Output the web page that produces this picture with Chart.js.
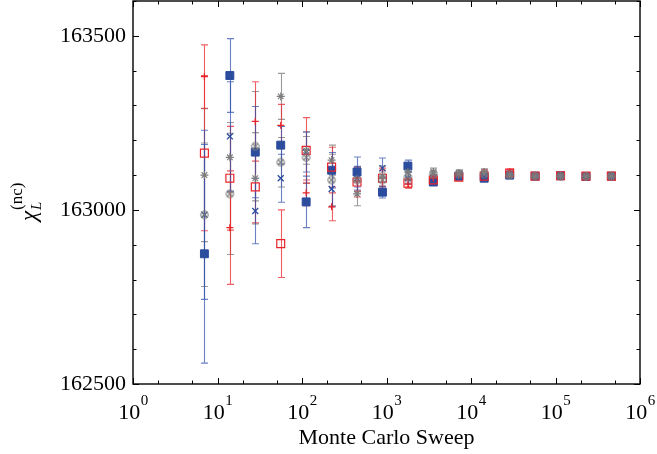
<!DOCTYPE html>
<html><head><meta charset="utf-8">
<script src="https://cdn.jsdelivr.net/npm/chart.js@4.4.1/dist/chart.umd.min.js"></script>
<style>html,body{margin:0;padding:0;background:#fff;}#wrap{width:657px;height:454px;}</style>
</head><body><div id="wrap"><canvas id="c" width="657" height="454"></canvas></div>
<script>
// ---- data ----
const sweeps = [7,14,28,56,112,224,448,896,1792,3584,7168,14336,28672,57344,114688,229376,458752];

const blueSquare    = [162874,163386,163166,163186,163023,163114,163109,163051,163126,163080,163097,163091,163100,163097,163098,163096,163097];
const blueSquareErr = [314,106,131,54,74,51,43,17,17,9,9,8,6,5,4,3,3];

const redSquare     = [163163,163091,163066,162903,163171,163123,163080,163091,163077,163086,163094,163097,163106,163097,163098,163097,163097];
const redSquareErr  = [223,149,103,97,94,57,43,29,14,9,9,6,8,5,4,3,3];

const grayCircle    = [162986,163046,163183,163137,163151,163086,163086,163086,163094,163103,163103,163103,163100,163097,163097,163096,163097];
const grayCircleErr = [206,174,157,71,74,74,34,23,17,11,9,9,6,5,4,3,2];

const grayStar      = [163100,163151,163091,163326,163171,163143,163046,163097,163109,163109,163106,163109,163100,163097,163097,163097,163097];
const grayStarErr   = [191,100,131,66,40,43,34,29,17,11,9,9,6,5,4,3,2];

const blueCross     = [162986,163211,162997,163091,163166,163060,163091,163120,163091,163091,163100,163097,163097,163097,163097,163097,163097];
const blueCrossErr  = [243,157,94,69,57,51,34,29,17,11,9,8,6,5,4,3,2];

const redPlus       = [163383,162949,163254,163243,163049,163009,163083,163091,163074,163091,163100,163109,163109,163097,163097,163097,163097];
const redPlusErr    = [91,163,114,60,37,40,29,23,11,9,9,6,8,5,4,3,2];

const xMajorTicks = [1,10,100,1000,10000,100000,1000000];
const xMinorTicks = [2,5,20,50,200,500,2000,5000,20000,50000,200000,500000];
const xTickExponents = ['0','1','2','3','4','5','6'];
const yMin = 162500, yMax = 163600, yStep = 100, yLabelStep = 500;

// ---- styles ----
const BLUE = '#2c4c9e', BLUE_BAR = 'rgba(50,80,175,0.72)';
const RED = '#e8242a', RED_BAR = 'rgba(235,40,45,0.75)';
const GRAY = '#7d7d7d', GRAY_BAR = 'rgba(120,120,120,0.75)';

function otimesMarker(){
  const c = document.createElement('canvas'); c.width = 11; c.height = 11;
  const g = c.getContext('2d'); g.strokeStyle = GRAY; g.lineWidth = 1.1;
  g.beginPath(); g.arc(5.5,5.5,3.7,0,Math.PI*2); g.stroke();
  g.beginPath(); g.moveTo(3,3); g.lineTo(8,8); g.moveTo(8,3); g.lineTo(3,8); g.stroke();
  return c;
}

function pts(vals){ return sweeps.map((s,i)=>({x:s,y:vals[i]})); }

const datasets = [
  {label:'gray asterisk', data:pts(grayStar), errors:grayStarErr, barColor:GRAY_BAR,
   pointStyle:'star', radius:4, borderColor:GRAY, backgroundColor:GRAY, borderWidth:1.1},
  {label:'gray circle', data:pts(grayCircle), errors:grayCircleErr, barColor:GRAY_BAR,
   pointStyle:otimesMarker(), radius:5, borderColor:GRAY, backgroundColor:GRAY},
  {label:'red plus', data:pts(redPlus), errors:redPlusErr, barColor:RED_BAR,
   pointStyle:'cross', radius:3.5, borderColor:RED, backgroundColor:RED, borderWidth:1.2},
  {label:'red square', data:pts(redSquare), errors:redSquareErr, barColor:RED_BAR,
   pointStyle:'rect', radius:5.6, borderColor:RED, backgroundColor:'rgba(0,0,0,0)', borderWidth:1.2},
  {label:'blue cross', data:pts(blueCross), errors:blueCrossErr, barColor:BLUE_BAR,
   pointStyle:'crossRot', radius:4.2, borderColor:BLUE, backgroundColor:BLUE, borderWidth:1.3},
  {label:'blue square', data:pts(blueSquare), errors:blueSquareErr, barColor:BLUE_BAR,
   pointStyle:'rect', radius:5.6, borderColor:BLUE, backgroundColor:BLUE, borderWidth:1},
];
datasets.forEach(d=>{ d.pointRadius=d.radius; d.pointHoverRadius=d.radius; d.showLine=false; });

const errorBars = {
  id:'errorBars',
  beforeDatasetsDraw(chart){
    const ctx = chart.ctx, ys = chart.scales.y, a = chart.chartArea;
    ctx.save();
    ctx.beginPath(); ctx.rect(a.left,a.top,a.right-a.left,a.bottom-a.top); ctx.clip();
    ctx.lineWidth = 1.1;
    chart.data.datasets.forEach((ds,i)=>{
      const meta = chart.getDatasetMeta(i);
      ctx.strokeStyle = ds.barColor;
      meta.data.forEach((el,j)=>{
        const v = ds.data[j].y, e = ds.errors[j];
        const t = ys.getPixelForValue(v+e), b = ys.getPixelForValue(v-e), x = Math.round(el.x)+0.5;
        ctx.beginPath();
        ctx.moveTo(x,t); ctx.lineTo(x,b);
        ctx.moveTo(x-3.5,t); ctx.lineTo(x+3.5,t);
        ctx.moveTo(x-3.5,b); ctx.lineTo(x+3.5,b);
        ctx.stroke();
      });
    });
    ctx.restore();
  }
};

const frameAndLabels = {
  id:'frameAndLabels',
  afterDraw(chart){
    const ctx = chart.ctx, a = chart.chartArea, xs = chart.scales.x, ys = chart.scales.y;
    ctx.save();
    ctx.strokeStyle = '#000'; ctx.lineWidth = 1.4;
    ctx.strokeRect(a.left, a.top, a.right-a.left, a.bottom-a.top);
    ctx.lineWidth = 1;
    ctx.beginPath();
    for (let v=yMin; v<=yMax; v+=yStep){
      const p = Math.round(ys.getPixelForValue(v))+0.5;
      const len = (v % yLabelStep === 0) ? 6 : 3.5;
      ctx.moveTo(a.left,p); ctx.lineTo(a.left+len,p);
      ctx.moveTo(a.right,p); ctx.lineTo(a.right-len,p);
    }
    xMajorTicks.concat(xMinorTicks).forEach(v=>{
      const p = Math.round(xs.getPixelForValue(v))+0.5;
      const len = xMajorTicks.includes(v) ? 6 : 3.5;
      ctx.moveTo(p,a.bottom); ctx.lineTo(p,a.bottom-len);
      ctx.moveTo(p,a.top); ctx.lineTo(p,a.top+len);
    });
    ctx.stroke();
    // x tick labels 10^k
    ctx.fillStyle = '#000'; ctx.textBaseline = 'alphabetic'; ctx.textAlign = 'left';
    xMajorTicks.forEach((v,k)=>{
      const p = xs.getPixelForValue(v);
      ctx.font = '22px "Liberation Serif", "Times New Roman", serif';
      const wb = ctx.measureText('10').width;
      ctx.font = '15px "Liberation Serif", "Times New Roman", serif';
      const we = ctx.measureText(xTickExponents[k]).width;
      const x0 = p - (wb+we)/2;
      ctx.font = '22px "Liberation Serif", "Times New Roman", serif';
      ctx.fillText('10', x0, 419);
      ctx.font = '15px "Liberation Serif", "Times New Roman", serif';
      ctx.fillText(xTickExponents[k], x0+wb+0.5, 405);
    });
    // y axis title chi_L^(nc)
    ctx.translate(36, 221); ctx.rotate(-Math.PI/2);
    ctx.font = 'italic 23px "Liberation Serif", "Times New Roman", serif';
    ctx.fillText('\u03C7', 0, 0);
    const wc = ctx.measureText('\u03C7').width;
    ctx.font = 'italic 15px "Liberation Serif", "Times New Roman", serif';
    ctx.fillText('L', wc+1, 5);
    ctx.font = '17px "Liberation Serif", "Times New Roman", serif';
    ctx.fillText('(nc)', wc+1, -14);
    ctx.restore();
  }
};

new Chart(document.getElementById('c'), {
  type:'scatter',
  data:{datasets},
  options:{
    responsive:false, animation:false, devicePixelRatio:1,
    layout:{autoPadding:false, padding:{top:1,right:17,left:0,bottom:0}},
    plugins:{legend:{display:false}, tooltip:{enabled:false}},
    scales:{
      x:{type:'logarithmic', min:1, max:1000000,
         grid:{display:false, drawTicks:false}, border:{display:false},
         ticks:{display:false},
         title:{display:true, text:'Monte Carlo Sweep', color:'#000', padding:{top:0,bottom:3},
                font:{family:'"Liberation Serif", "Times New Roman", serif', size:22}},
         afterFit(s){ s.height = 70; s.paddingLeft = 0; s.paddingRight = 0; }},
      y:{type:'linear', min:yMin, max:yMax,
         grid:{display:false, drawTicks:false}, border:{display:false},
         ticks:{stepSize:yStep, autoSkip:false, padding:7, color:'#000',
                font:{family:'"Liberation Serif", "Times New Roman", serif', size:22},
                callback:(v)=> (v % yLabelStep === 0 ? String(v) : '')},
         afterFit(s){ s.width = 133; s.paddingTop = 0; s.paddingBottom = 0; }}
    }
  },
  plugins:[errorBars, frameAndLabels]
});
</script></body></html>
